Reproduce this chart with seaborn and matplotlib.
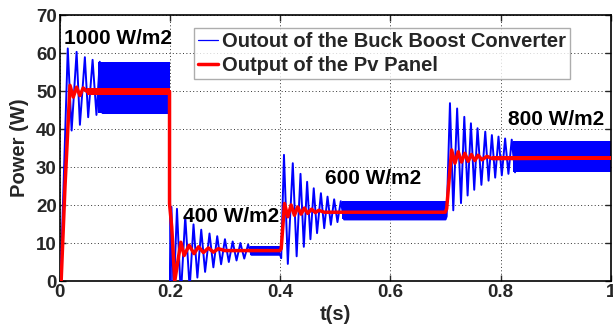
import numpy as np
import pandas as pd
import matplotlib
matplotlib.use('Agg')
import matplotlib.pyplot as plt
import seaborn as sns

sns.set_style('ticks')
plt.rcParams['font.family'] = ['Liberation Sans', 'DejaVu Sans']
plt.rcParams['font.weight'] = 'bold'

BLUE = '#0000ff'
RED = '#ff0000'

# ── data ────────────────────────────────────────────────────────────────
# buck boost output: turning points of the transient ringing (t in s, P in W)
blue_t = [0.000, 0.002, 0.015, 0.022, 0.031, 0.037, 0.046, 0.052, 0.060, 0.067, 0.073, 0.078,
          0.200, 0.201, 0.203, 0.207, 0.213, 0.220, 0.228, 0.236, 0.243, 0.250, 0.257, 0.264,
          0.272, 0.279, 0.286, 0.293, 0.300, 0.307, 0.314, 0.321, 0.328, 0.335, 0.342, 0.348,
          0.400, 0.402, 0.407, 0.414, 0.423, 0.430, 0.437, 0.443, 0.449, 0.455, 0.461, 0.467,
          0.474, 0.480, 0.486, 0.492, 0.498, 0.504, 0.510, 0.516,
          0.700, 0.702, 0.708, 0.714, 0.721, 0.728, 0.734, 0.740, 0.746, 0.752, 0.758, 0.765,
          0.772, 0.778, 0.784, 0.790, 0.796, 0.802, 0.808, 0.814, 0.820, 0.826]
blue_p = [0.0, 0.0, 61.2, 39.6, 60.3, 41.1, 58.9, 43.1, 58.2, 43.7, 57.7, 44.2,
          44.2, -3.0, 19.5, -4.0, 19.0, -4.0, 17.0, -2.0, 14.9, 0.9, 13.5, 2.4,
          12.5, 3.6, 11.8, 4.4, 11.0, 5.0, 10.4, 5.4, 10.0, 5.9, 9.6, 6.9,
          6.9, 6.0, 33.2, 4.5, 31.0, 6.5, 28.2, 9.0, 26.1, 11.0, 24.4, 12.6,
          23.1, 13.9, 22.2, 14.8, 21.5, 15.5, 21.0, 16.2,
          16.2, 17.0, 46.8, 18.6, 45.4, 20.5, 43.2, 22.5, 41.5, 24.0, 40.2, 25.3,
          39.3, 26.4, 38.4, 27.2, 38.0, 27.8, 37.5, 28.2, 37.2, 28.6]

# buck boost output: steady ripple band per irradiance step
blue_band_start = [0.070, 0.345, 0.513, 0.823]
blue_band_end = [0.200, 0.400, 0.700, 1.000]
blue_band_low = [44.2, 6.9, 16.2, 28.6]
blue_band_high = [57.6, 9.2, 21.0, 36.9]

# pv panel output
red_t = [0.000, 0.003, 0.010, 0.019, 0.025, 0.031, 0.037, 0.043, 0.050, 0.1995,
         0.1995, 0.2035, 0.209, 0.220, 0.226, 0.235, 0.244, 0.252, 0.261, 0.270, 0.279, 0.288, 0.300, 0.3995,
         0.402, 0.408, 0.414, 0.420, 0.426, 0.432, 0.438, 0.444, 0.450, 0.457, 0.464, 0.470, 0.480, 0.6995,
         0.702, 0.711, 0.717, 0.723, 0.729, 0.735, 0.741, 0.747, 0.753, 0.759, 0.766, 0.775, 0.785, 1.000]
red_p = [0.0, 0.0, 25.0, 51.5, 48.4, 51.0, 48.8, 50.8, 49.85, 49.85,
         20.3, 14.2, 0.0, 10.2, 6.7, 9.4, 7.2, 9.0, 7.5, 8.7, 7.6, 8.5, 8.0, 8.0,
         8.5, 20.4, 16.9, 20.0, 17.3, 19.5, 17.6, 19.2, 17.8, 18.9, 18.0, 18.6, 18.1, 18.1,
         19.0, 34.5, 31.0, 34.0, 31.3, 33.6, 31.5, 33.3, 31.7, 33.1, 31.9, 32.8, 32.2, 32.35]

red_band_start = [0.050, 0.300, 0.480, 0.785]
red_band_end = [0.1995, 0.3995, 0.6995, 1.000]
red_band_low = [49.0, 7.8, 17.8, 31.8]
red_band_high = [50.7, 8.2, 18.4, 32.9]

# irradiance labels
ann_text = ['1000 W/m2', '400 W/m2', '600 W/m2', '800 W/m2']
ann_x = [0.008, 0.224, 0.481, 0.814]
ann_y = [63.7, 16.9, 27.0, 42.6]

blue_df = pd.DataFrame({'t': blue_t, 'P': blue_p})
red_df = pd.DataFrame({'t': red_t, 'P': red_p})

# ── figure ──────────────────────────────────────────────────────────────
fig = plt.figure(figsize=(6.13, 3.29), dpi=100)
ax = fig.add_axes([59.5/613, 1-281/329, (611-59.5)/613, 266/329])

for s, e, lo, hi in zip(blue_band_start, blue_band_end, blue_band_low, blue_band_high):
    ax.fill_between([s, e], [lo, lo], [hi, hi], color=BLUE, lw=0, zorder=2)
sns.lineplot(data=blue_df, x='t', y='P', sort=False, estimator=None, color=BLUE,
             lw=1.4, ax=ax, zorder=3, label='Outout of the Buck Boost Converter')

for s, e, lo, hi in zip(red_band_start, red_band_end, red_band_low, red_band_high):
    ax.fill_between([s, e], [lo, lo], [hi, hi], color=RED, lw=0, zorder=4)
sns.lineplot(data=red_df, x='t', y='P', sort=False, estimator=None, color=RED,
             lw=2.5, ax=ax, zorder=5, label='Output of the Pv Panel')

for txt, x, y in zip(ann_text, ann_x, ann_y):
    ax.text(x, y, txt, ha='left', va='center', fontsize=15, fontweight='bold',
            color='black', zorder=6)

ax.set_xlim(0, 1)
ax.set_ylim(0, 70)
ax.set_xticks(np.arange(0, 1.01, 0.2))
ax.set_xticklabels(['0', '0.2', '0.4', '0.6', '0.8', '1'])
ax.set_yticks(np.arange(0, 71, 10))
ax.grid(True, color='#333333', ls=(0, (1, 2.5)), lw=0.7)
ax.set_axisbelow(True)
ax.tick_params(direction='in', length=4, width=1, labelsize=13.5,
               top=True, right=True)
ax.tick_params(axis='x', pad=2.5)
ax.tick_params(axis='y', pad=2)
for sp in ax.spines.values():
    sp.set_visible(True)
    sp.set_color('black')
    sp.set_linewidth(1.2)

ax.set_xlabel('t(s)', fontsize=14.5, fontweight='bold')
ax.set_ylabel('Power (W)', fontsize=14.5, fontweight='bold')
ax.xaxis.set_label_coords(0.5, -0.092)
ax.yaxis.set_label_coords(-0.055, 0.5)

leg = ax.legend(loc='upper left', bbox_to_anchor=(0.244, 0.951), borderaxespad=0,
                fontsize=14.5, frameon=True, fancybox=False, handlelength=1.0,
                handletextpad=0.2, labelspacing=0.25, borderpad=0.2)
leg.get_frame().set_edgecolor('#999999')
leg.get_frame().set_linewidth(1.0)
for t in leg.get_texts():
    t.set_fontweight('bold')
for h in leg.get_lines()[:1]:
    h.set_linewidth(0.9)
leg.set_zorder(10)

fig.savefig('out.png', dpi=100, facecolor='white')
